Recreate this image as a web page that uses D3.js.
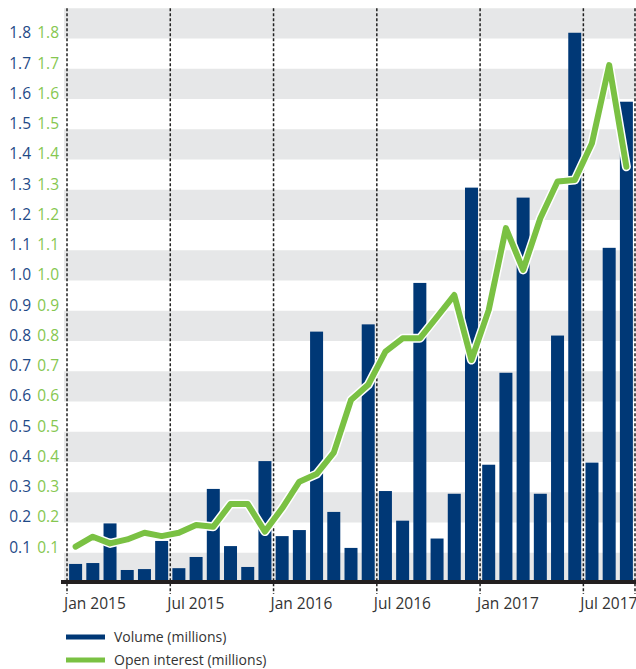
<!DOCTYPE html>
<html>
<head>
<meta charset="utf-8">
<script src="https://cdn.jsdelivr.net/npm/d3@7"></script>
<style>
  body { margin: 0; background: #fff; }
  svg text { font-family: "Open Sans", "Noto Sans", sans-serif; }
</style>
</head>
<body>
<div id="chart"></div>
<script>
// Months shown on the x axis (one bar per month)
var months = [
  "Jan 2015", "Feb 2015", "Mar 2015", "Apr 2015", "May 2015", "Jun 2015",
  "Jul 2015", "Aug 2015", "Sep 2015", "Oct 2015", "Nov 2015", "Dec 2015",
  "Jan 2016", "Feb 2016", "Mar 2016", "Apr 2016", "May 2016", "Jun 2016",
  "Jul 2016", "Aug 2016", "Sep 2016", "Oct 2016", "Nov 2016", "Dec 2016",
  "Jan 2017", "Feb 2017", "Mar 2017", "Apr 2017", "May 2017", "Jun 2017",
  "Jul 2017", "Aug 2017", "Sep 2017"
];

// Volume (millions)
var volume = [
  0.063, 0.066, 0.197, 0.043, 0.046, 0.139,
  0.049, 0.086, 0.311, 0.122, 0.053, 0.403,
  0.155, 0.175, 0.831, 0.235, 0.116, 0.855,
  0.304, 0.206, 0.992, 0.147, 0.295, 1.307,
  0.391, 0.695, 1.274, 0.295, 0.818, 1.819,
  0.398, 1.108, 1.591
];

// Open interest (millions)
var openInterest = [
  0.120, 0.153, 0.131, 0.144, 0.166, 0.155,
  0.166, 0.192, 0.186, 0.261, 0.261, 0.170,
  0.247, 0.335, 0.360, 0.431, 0.605, 0.655,
  0.765, 0.809, 0.809, 0.880, 0.952, 0.737,
  0.902, 1.173, 1.035, 1.206, 1.327, 1.332,
  1.454, 1.712, 1.376
];

// Tick labels
var xTicks = ["Jan 2015", "Jul 2015", "Jan 2016", "Jul 2016", "Jan 2017", "Jul 2017"];
var yTicks = [0.1, 0.2, 0.3, 0.4, 0.5, 0.6, 0.7, 0.8, 0.9, 1.0,
              1.1, 1.2, 1.3, 1.4, 1.5, 1.6, 1.7, 1.8];

var legendItems = ["Volume (millions)", "Open interest (millions)"];

var navy = "#003876",
    green = "#7ac143",
    blueText = "#1f4a87",
    greenText = "#86c750";

var width = 636, height = 669;

var svg = d3.select("#chart")
  .append("svg")
    .attr("width", width)
    .attr("height", height);

// Scales
var x = d3.scaleBand()
    .domain(months)
    .range([67, 635])
    .paddingInner(0.245)
    .paddingOuter(0.1225);

var y = d3.scaleLinear()
    .domain([0, 1.9])
    .range([583, 8.25]);

// boundary to the left of a month's band
function edge(m) {
  return x(m) - x.step() * x.paddingInner() / 2;
}

// Grey bands every other 0.1
svg.append("g")
  .selectAll("rect")
  .data(d3.range(0, 1.9, 0.2))
  .join("rect")
    .attr("x", 64)
    .attr("width", width - 64)
    .attr("y", function(d) { return y(d + 0.1); })
    .attr("height", function(d) { return y(d) - y(d + 0.1); })
    .attr("fill", "#e6e7e8");

// Dashed half-year lines
var edges = xTicks.map(edge).concat([x.range()[1]]);
svg.append("g")
  .selectAll("line")
  .data(edges)
  .join("line")
    .attr("x1", function(d) { return d; })
    .attr("x2", function(d) { return d; })
    .attr("y1", y(1.9))
    .attr("y2", 594)
    .attr("stroke", "#222")
    .attr("stroke-width", 1.5)
    .attr("stroke-dasharray", "3,2");

// Volume bars
svg.append("g")
  .selectAll("rect")
  .data(volume)
  .join("rect")
    .attr("x", function(d, i) { return x(months[i]); })
    .attr("width", x.bandwidth())
    .attr("y", function(d) { return y(d); })
    .attr("height", function(d) { return y(0) - y(d); })
    .attr("fill", navy);

// Baseline
svg.append("line")
    .attr("x1", 61)
    .attr("x2", width)
    .attr("y1", y(0) - 1)
    .attr("y2", y(0) - 1)
    .attr("stroke", "#231f20")
    .attr("stroke-width", 4);

// Open interest line, with a white halo
var line = d3.line()
    .x(function(d, i) { return x(months[i]) + x.bandwidth() / 2; })
    .y(function(d) { return y(d); });

svg.append("path")
    .datum(openInterest)
    .attr("fill", "none")
    .attr("stroke", "#fff")
    .attr("stroke-width", 9)
    .attr("stroke-linejoin", "round")
    .attr("stroke-linecap", "round")
    .attr("d", line);

svg.append("path")
    .datum(openInterest)
    .attr("fill", "none")
    .attr("stroke", green)
    .attr("stroke-width", 6)
    .attr("stroke-linejoin", "round")
    .attr("stroke-linecap", "round")
    .attr("d", line);

// Y labels, two columns (volume / open interest)
var yLab = svg.append("g").style("font-size", "15.5px");
yLab.selectAll("text.vol")
  .data(yTicks)
  .join("text")
    .attr("class", "vol")
    .attr("x", 31)
    .attr("y", function(d) { return y(d) - 5.5; })
    .attr("dy", "0.35em")
    .attr("text-anchor", "end")
    .attr("fill", blueText)
    .text(d3.format(".1f"));
yLab.selectAll("text.oi")
  .data(yTicks)
  .join("text")
    .attr("class", "oi")
    .attr("x", 59)
    .attr("y", function(d) { return y(d) - 5.5; })
    .attr("dy", "0.35em")
    .attr("text-anchor", "end")
    .attr("fill", greenText)
    .text(d3.format(".1f"));

// X labels
svg.append("g")
  .selectAll("text")
  .data(xTicks)
  .join("text")
    .attr("x", function(d) { return edge(d) - 3; })
    .attr("y", 609)
    .style("font-size", "15.5px")
    .attr("fill", "#333")
    .text(function(d) { return d; });

// Legend
var legend = svg.append("g")
  .selectAll("g")
  .data(legendItems)
  .join("g")
    .attr("transform", function(d, i) { return "translate(66," + (637 + i * 23) + ")"; });

legend.append("line")
    .attr("x1", 0)
    .attr("x2", 39)
    .attr("stroke", function(d, i) { return i === 0 ? navy : green; })
    .attr("stroke-width", 5);

legend.append("text")
    .attr("x", 48)
    .attr("dy", "0.35em")
    .style("font-size", "14px")
    .attr("fill", "#333")
    .text(function(d) { return d; });
</script>
</body>
</html>
